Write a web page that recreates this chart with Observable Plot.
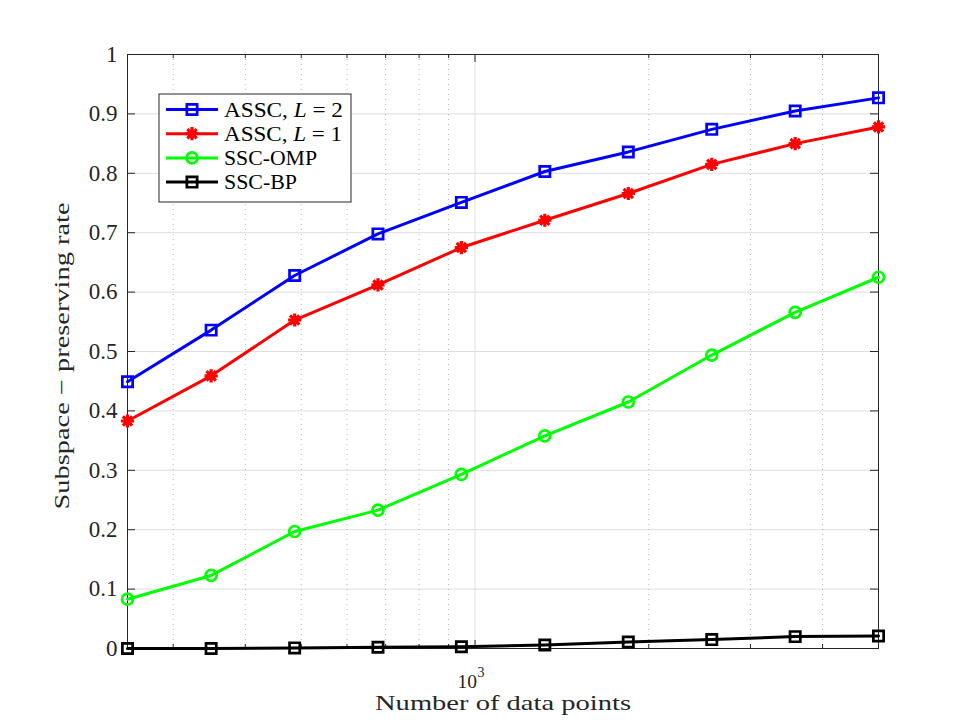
<!DOCTYPE html>
<html>
<head>
<meta charset="utf-8">
<script src="https://cdn.jsdelivr.net/npm/d3@7"></script>
<script src="https://cdn.jsdelivr.net/npm/@observablehq/plot@0.6"></script>
<style>
  html, body { margin: 0; padding: 0; background: #fff; }
</style>
</head>
<body>
<div id="chart"></div>
<script>
// ---------- data ----------
const nPoints = [250, 349, 487, 679, 947, 1321, 1843, 2571, 3586, 5000];
const asscL2  = [0.449, 0.536, 0.628, 0.698, 0.751, 0.803, 0.836, 0.874, 0.905, 0.927];
const asscL1  = [0.383, 0.459, 0.553, 0.612, 0.675, 0.721, 0.766, 0.815, 0.850, 0.878];
const sscOmp  = [0.083, 0.123, 0.197, 0.233, 0.293, 0.358, 0.415, 0.494, 0.566, 0.625];
const sscBp   = [0.000, 0.000, 0.001, 0.002, 0.003, 0.006, 0.011, 0.015, 0.020, 0.021];

const seriesKeys   = ["ASSC, L = 2", "ASSC, L = 1", "SSC-OMP", "SSC-BP"];
const seriesValues = [asscL2, asscL1, sscOmp, sscBp];
const seriesColors = ["#0000ff", "#ff0000", "#00ff00", "#000000"];
const seriesSymbols = ["square", "asterisk8", "circle", "square"];

const yTicks = [0, 0.1, 0.2, 0.3, 0.4, 0.5, 0.6, 0.7, 0.8, 0.9, 1];
const yTickLabels = ["0", "0.1", "0.2", "0.3", "0.4", "0.5", "0.6", "0.7", "0.8", "0.9", "1"];
const xMajorTicks = [1000];
const xMajorBase = ["10"];
const xMajorExp = ["3"];
const xMinorTicks = [300, 400, 500, 600, 700, 800, 900, 2000, 3000, 4000];
const xLabel = "Number of data points";
const yLabel = "Subspace \u2212 preserving rate";

// ---------- table ----------
const rows = seriesKeys.flatMap((key, s) =>
  nPoints.map((n, i) => ({ series: key, n, rate: seriesValues[s][i] }))
);

// ---------- layout ----------
const W = 970, H = 728;
const mL = 127, mR = 92, mT = 54, mB = 80;
const iw = W - mL - mR, ih = H - mT - mB;
const axisColor = "#262626";
const font = "'Liberation Serif', 'Times New Roman', serif";

const asterisk8 = {
  draw(ctx, size) {
    const r = Math.sqrt(size / Math.PI);
    const d = r * Math.SQRT1_2;
    ctx.moveTo(-r, 0); ctx.lineTo(r, 0);
    ctx.moveTo(0, -r); ctx.lineTo(0, r);
    ctx.moveTo(-d, -d); ctx.lineTo(d, d);
    ctx.moveTo(-d, d); ctx.lineTo(d, -d);
  }
};
function symFor(name) { return name === "asterisk8" ? asterisk8 : name; }
function rFor(name) { return name === "asterisk8" ? 6.6 : name === "circle" ? 5.5 : 5.8; }
function swFor(name) { return name === "asterisk8" ? 3.2 : 2.7; }

const seriesMarks = seriesKeys.flatMap((key, s) => {
  const data = rows.filter(d => d.series === key);
  return [
    Plot.line(data, { x: "n", y: "rate", stroke: seriesColors[s], strokeWidth: 3, strokeLinejoin: "round" }),
    Plot.dot(data, { x: "n", y: "rate", stroke: seriesColors[s], fill: "none", strokeWidth: swFor(seriesSymbols[s]),
      symbol: symFor(seriesSymbols[s]), r: rFor(seriesSymbols[s]) })
  ];
});

const chart = Plot.plot({
  width: W, height: H,
  marginLeft: mL, marginRight: mR, marginTop: mT, marginBottom: mB,
  x: { type: "log", domain: [250, 5000], axis: null },
  y: { domain: [0, 1], axis: null },
  style: { fontFamily: font, background: "#fff", overflow: "visible" },
  marks: [
    // grid
    Plot.ruleY(yTicks.slice(1, -1), { stroke: "#dedede", strokeWidth: 1 }),
    Plot.ruleX(xMinorTicks, { stroke: "#b4b4b4", strokeWidth: 1, strokeDasharray: "1,4" }),
    Plot.ruleX(xMajorTicks, { stroke: "#dedede", strokeWidth: 1 }),
    // box
    Plot.frame({ stroke: axisColor, strokeWidth: 1 }),
    // ticks (inward)
    Plot.tickY(yTicks, { y: d => d, insetRight: iw - 8, stroke: axisColor }),
    Plot.tickY(yTicks, { y: d => d, insetLeft: iw - 8, stroke: axisColor }),
    Plot.tickX(xMinorTicks, { x: d => d, insetTop: ih - 4, stroke: axisColor }),
    Plot.tickX(xMinorTicks, { x: d => d, insetBottom: ih - 4, stroke: axisColor }),
    Plot.tickX(xMajorTicks, { x: d => d, insetTop: ih - 8, stroke: axisColor }),
    Plot.tickX(xMajorTicks, { x: d => d, insetBottom: ih - 8, stroke: axisColor }),
    // data
    ...seriesMarks,
    // tick labels
    Plot.text(yTicks, { y: d => d, text: (d, i) => yTickLabels[i], frameAnchor: "left",
      dx: -10, textAnchor: "end", lineAnchor: "middle", fontSize: 23, fill: axisColor }),
    Plot.text(xMajorTicks, { x: d => d, text: (d, i) => xMajorBase[i], frameAnchor: "bottom",
      dx: 2, dy: 39, textAnchor: "end", lineAnchor: "bottom", fontSize: 19.5, fill: axisColor }),
    Plot.text(xMajorTicks, { x: d => d, text: (d, i) => xMajorExp[i], frameAnchor: "bottom",
      dx: 2.5, dy: 28, textAnchor: "start", lineAnchor: "bottom", fontSize: 14, fill: axisColor }),
    // axis labels
    Plot.text([xLabel], { text: d => d, frameAnchor: "bottom", dy: 61, textAnchor: "middle",
      lineAnchor: "bottom", fontSize: 22, fill: axisColor }),
    Plot.text([yLabel], { text: d => d, frameAnchor: "left", dx: -58.5, dy: 4.5, rotate: -90,
      textAnchor: "middle", lineAnchor: "bottom", fontSize: 22, fill: axisColor })
  ]
});

const svg = d3.select(chart);

// widen serif labels to the Computer-Modern-like widths of the original
const labelWidths = new Map([[xLabel, 256], [yLabel, 307]]);
svg.selectAll("text").each(function () {
  const w = labelWidths.get(this.textContent);
  if (w) d3.select(this).attr("textLength", w).attr("lengthAdjust", "spacingAndGlyphs");
});

// ---------- legend (inside axes, top-left) ----------
const legendWidths = [119, 118, 93, 73];
const lg = svg.append("g").attr("font-family", font).attr("text-anchor", "start");
const box = { x: 159, y: 94, w: 192, h: 108 };
lg.append("rect").attr("x", box.x).attr("y", box.y).attr("width", box.w).attr("height", box.h)
  .attr("fill", "#fff").attr("stroke", axisColor).attr("stroke-width", 1);
seriesKeys.forEach((key, s) => {
  const cy = 109.5 + s * 24.2;
  lg.append("line").attr("x1", 166).attr("x2", 218).attr("y1", cy).attr("y2", cy)
    .attr("stroke", seriesColors[s]).attr("stroke-width", 3);
  const r = rFor(seriesSymbols[s]);
  const sym = seriesSymbols[s] === "asterisk8" ? asterisk8 :
              seriesSymbols[s] === "circle" ? d3.symbolCircle : d3.symbolSquare;
  lg.append("path").attr("d", d3.symbol(sym, Math.PI * r * r)())
    .attr("transform", `translate(192,${cy})`)
    .attr("fill", "none").attr("stroke", seriesColors[s]).attr("stroke-width", swFor(seriesSymbols[s]));
  const t = lg.append("text").attr("x", 224).attr("y", cy + 7).attr("font-size", 21)
    .attr("text-anchor", "start").attr("fill", "#000")
    .attr("textLength", legendWidths[s]).attr("lengthAdjust", "spacingAndGlyphs");
  const m = key.match(/^(.*?)(L)( = .*)$/);
  if (m) {
    t.append("tspan").text(m[1]);
    t.append("tspan").attr("font-style", "italic").text(m[2]);
    t.append("tspan").text(m[3]);
  } else {
    t.text(key);
  }
});

document.getElementById("chart").appendChild(chart);
</script>
</body>
</html>
